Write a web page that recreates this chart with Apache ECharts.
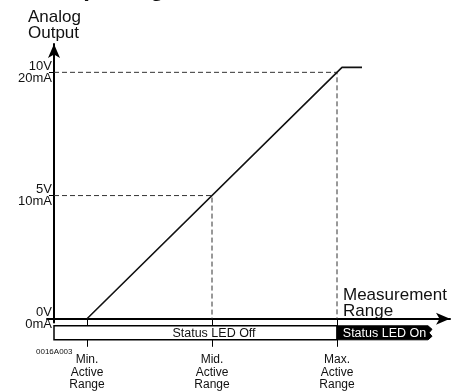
<!DOCTYPE html>
<html>
<head>
<meta charset="utf-8">
<script src="https://cdn.jsdelivr.net/npm/echarts@6/dist/echarts.min.js"></script>
<style>
html,body{margin:0;padding:0;background:#fff;}
#chart{width:452px;height:391px;}
</style>
</head>
<body>
<div id="chart"></div>
<script>
// ---- data ----
const xMarks = [0, 50, 100];                 // Min., Mid., Max. active range
const xMarkLabels = ['Min.\nActive\nRange', 'Mid.\nActive\nRange', 'Max.\nActive\nRange'];
const yTicks = [0, 5, 10];
const yTickVolts = ['0V', '5V', '10V'];
const yTickMA = ['0mA', '10mA', '20mA'];
const outputX = [0, 102, 110];
const outputY = [0, 10.2, 10.2];
const ledStart = [-13.2, 100];
const ledEnd = [100, 138];
const ledLabels = ['Status LED Off', 'Status LED On'];
const axisStartX = -13.2;

const FONT = "'Liberation Sans', Arial, sans-serif";

const outputData = outputX.map((x, i) => [x, outputY[i]]);
const guideMid = [[axisStartX, yTicks[1]], [xMarks[1], yTicks[1]], [xMarks[1], 0]];
const guideMax = [[axisStartX, yTicks[2]], [xMarks[2], yTicks[2]], [xMarks[2], 0]];
const ledData = ledStart.map((s, i) => [s, ledEnd[i], i]);

const chart = echarts.init(document.getElementById('chart'), null, {renderer: 'canvas'});

const option = {
  animation: false,
  backgroundColor: '#fff',
  grid: {left: 47, right: 2, top: 44, bottom: 63, containLabel: false},
  xAxis: {
    type: 'value', min: -16, max: 145.2,
    splitLine: {show: false},
    axisLine: {show: true, onZero: true, symbol: ['none', 'arrow'], symbolSize: [9, 14],
      lineStyle: {color: '#000', width: 2}},
    axisTick: {show: true, customValues: xMarks, length: 28, lineStyle: {color: '#000', width: 1}},
    axisLabel: {show: true, customValues: xMarks, margin: 31,
      formatter: v => { const i = xMarks.indexOf(v); return i >= 0 ? xMarkLabels[i] : ''; },
      color: '#111', fontFamily: FONT, fontSize: 12, lineHeight: 12.5}
  },
  yAxis: {
    type: 'value', min: -0.15, max: 11.15, offset: -7,
    splitLine: {show: false},
    axisLine: {show: true, onZero: false, symbol: ['none', 'arrow'], symbolSize: [9, 14],
      lineStyle: {color: '#000', width: 2}},
    axisTick: {show: true, customValues: yTicks, length: 5, lineStyle: {color: '#000', width: 1}},
    axisLabel: {show: true, customValues: yTicks, margin: 2,
      formatter: v => { const i = yTicks.indexOf(v); return i >= 0 ? yTickVolts[i] + '\n' + yTickMA[i] : ''; },
      color: '#111', fontFamily: FONT, fontSize: 13, lineHeight: 12, align: 'right'}
  },
  series: [
    {
      type: 'line', data: guideMid, symbol: 'none', silent: true, z: 1,
      lineStyle: {color: '#333', width: 1, type: [5, 3]}
    },
    {
      type: 'line', data: guideMax, symbol: 'none', silent: true, z: 1,
      lineStyle: {color: '#333', width: 1, type: [5, 3]}
    },
    {
      type: 'line', data: outputData, symbol: 'none', z: 3,
      lineStyle: {color: '#111', width: 1.6}
    },
    {
      type: 'custom', data: ledData, clip: false, z: 5,
      renderItem: function (params, api) {
        const a = api.coord([api.value(0), 0]);
        const b = api.coord([api.value(1), 0]);
        const idx = api.value(2);
        const top = a[1] + 7, bot = a[1] + 21;
        const x0 = a[0], x1 = b[0];
        if (idx === 0) {
          return {type: 'group', children: [
            {type: 'rect', shape: {x: x0, y: top, width: x1 - x0, height: bot - top},
              style: {fill: '#fff', stroke: '#000', lineWidth: 1.5}},
            {type: 'text', style: {text: ledLabels[idx], x: api.coord([xMarks[1], 0])[0] + 2, y: (top + bot) / 2 + 1,
              align: 'center', verticalAlign: 'middle', fill: '#111', font: '12.5px ' + FONT}}
          ]};
        }
        const h = bot - top;
        return {type: 'group', children: [
          {type: 'polygon', shape: {points: [
            [x0, top], [x1 - 4, top], [x1, top + h * 0.25], [x1 - 3, top + h * 0.5],
            [x1, top + h * 0.75], [x1 - 4, bot], [x0, bot]]},
            style: {fill: '#000', stroke: '#000', lineWidth: 1}},
          {type: 'text', style: {text: ledLabels[idx], x: (x0 + x1) / 2, y: (top + bot) / 2 + 1,
            align: 'center', verticalAlign: 'middle', fill: '#fff', font: '12.5px ' + FONT}}
        ]};
      }
    }
  ],
  graphic: [
    {type: 'text', x: 42, y: -23, silent: true,
      style: {text: 'Output Signal', font: 'bold 24px ' + FONT, fill: '#111'}},
    {type: 'text', left: 28, top: 9, silent: true,
      style: {text: 'Analog\nOutput', font: '17px ' + FONT, lineHeight: 16, fill: '#111'}},
    {type: 'text', left: 343, top: 287, silent: true,
      style: {text: 'Measurement\nRange', font: '17px ' + FONT, lineHeight: 16, fill: '#111'}},
    {type: 'text', left: 36, top: 348, silent: true,
      style: {text: '0016A003', font: '8px ' + FONT, fill: '#111'}}
  ]
};
chart.setOption(option);
</script>
</body>
</html>
